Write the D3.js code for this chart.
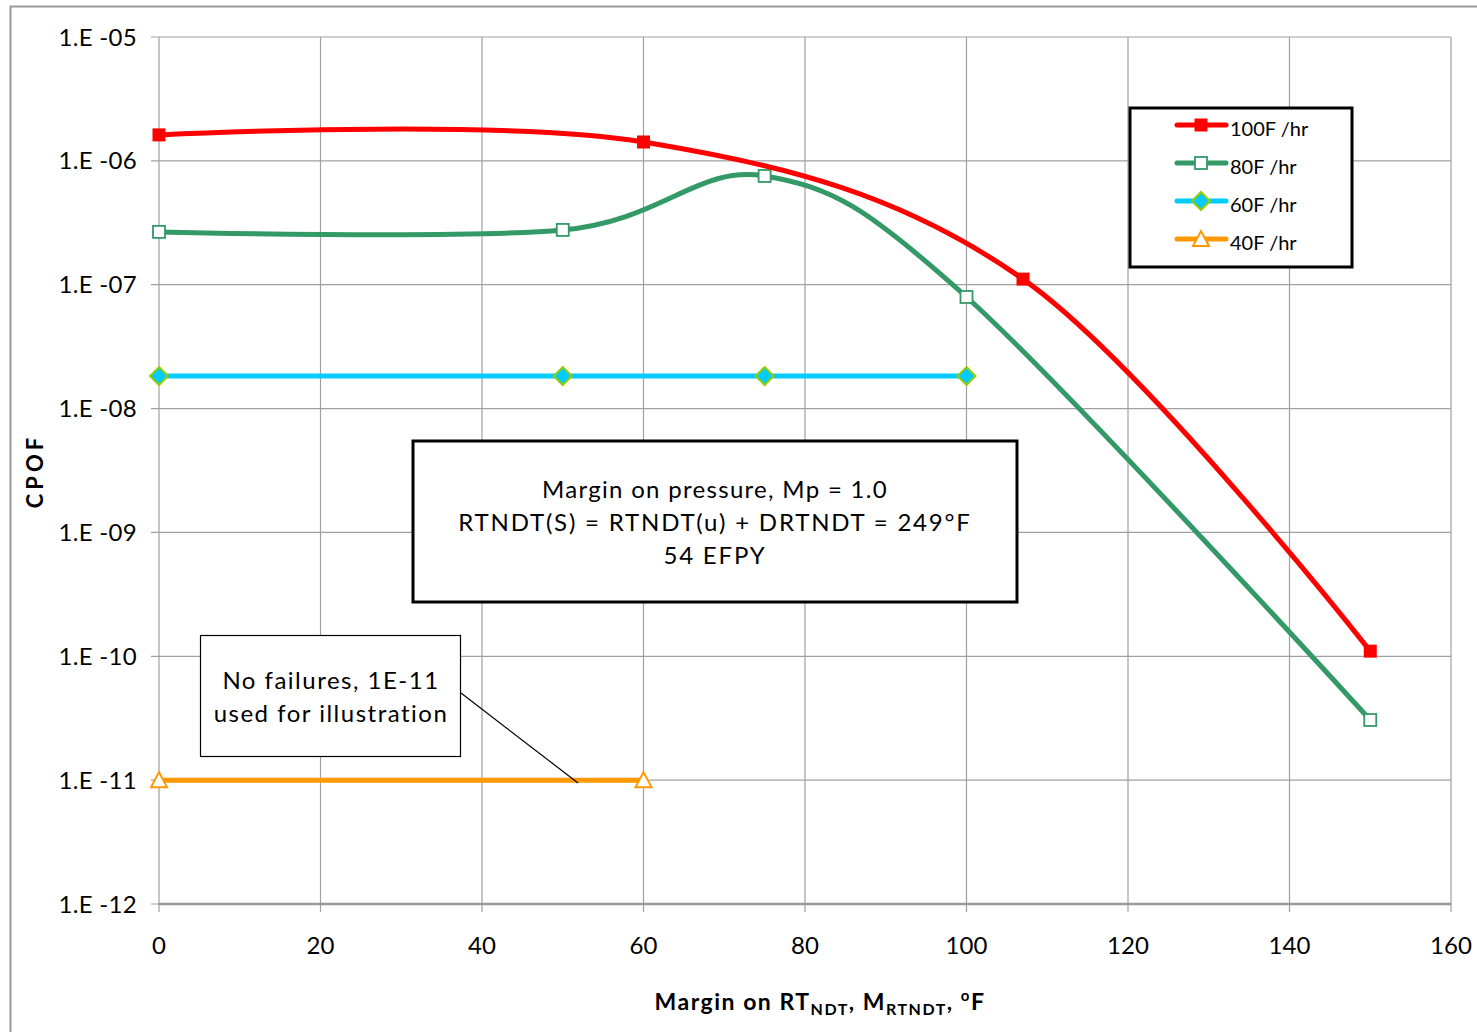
<!DOCTYPE html>
<html><head><meta charset="utf-8">
<script src="https://cdn.jsdelivr.net/npm/d3@7"></script>
<style>body{margin:0;background:#fff}svg{display:block}text{font-family:Lato,"Open Sans",sans-serif}</style>
</head><body>
<script>
// ---- data ----
const xTicks = [0,20,40,60,80,100,120,140,160];
const yTicks = [1e-5,1e-6,1e-7,1e-8,1e-9,1e-10,1e-11,1e-12];
const yTickLabels = ["1.E -05","1.E -06","1.E -07","1.E -08","1.E -09","1.E -10","1.E -11","1.E -12"];
const seriesNames = ["100F /hr","80F /hr","60F /hr","40F /hr"];
const x100 = [0,60,107,150];
const y100 = [1.62e-6,1.42e-6,1.11e-7,1.1e-10];
const x80 = [0,50,75,100,150];
const y80 = [2.67e-7,2.77e-7,7.55e-7,7.96e-8,3.06e-11];
const x60 = [0,50,75,100];
const y60 = [1.83e-8,1.83e-8,1.83e-8,1.83e-8];
const x40 = [0,60];
const y40 = [1e-11,1e-11];
const noteLines = ["Margin on pressure, Mp = 1.0","RTNDT(S) = RTNDT(u) + DRTNDT = 249°F","54 EFPY"];
const calloutLines = ["No failures, 1E-11","used for illustration"];

const W=1477,H=1032;
const L=159,R=1451,T=37,B=904;
const svg=d3.select("body").append("svg").attr("width",W).attr("height",H);
const x=d3.scaleLinear().domain([0,160]).range([L,R]);
const y=d3.scaleLog().domain([1e-12,1e-5]).range([B,T]);

// outer frame
svg.append("path").attr("d",`M10.5,${H+5}V6.5H${W+5}`).attr("fill","none").attr("stroke","#999").attr("stroke-width",2);

// grid
const g=svg.append("g");
g.selectAll(".vg").data(xTicks).join("line").attr("x1",d=>x(d)).attr("x2",d=>x(d)).attr("y1",T).attr("y2",B+8)
 .attr("stroke","#a0a0a0").attr("stroke-width",1.2);
g.selectAll(".hg").data(yTicks).join("line").attr("x1",L-8).attr("x2",R).attr("y1",d=>y(d)).attr("y2",d=>y(d))
 .attr("stroke","#a0a0a0").attr("stroke-width",1.2);
g.append("line").attr("x1",L).attr("x2",R).attr("y1",B).attr("y2",B).attr("stroke","#999").attr("stroke-width",2.5);

// tick labels
svg.selectAll(".yl").data(yTicks).join("text").attr("x",137).attr("y",d=>y(d)).attr("dy","0.36em")
 .attr("text-anchor","end").attr("font-size",24).attr("letter-spacing",0.3).attr("fill","#000").text((d,i)=>yTickLabels[i]);
svg.selectAll(".xl").data(xTicks).join("text").attr("x",d=>x(d)).attr("y",954)
 .attr("text-anchor","middle").attr("font-size",24).attr("fill","#000").text(d=>d);

// axis titles
svg.append("text").attr("transform","translate(43,471) rotate(-90)").attr("text-anchor","middle")
 .attr("font-size",22).attr("font-weight","bold").attr("letter-spacing",4).text("CPOF");
const xt=svg.append("text").attr("x",820).attr("y",1010).attr("text-anchor","middle").attr("font-size",23).attr("font-weight","bold").attr("letter-spacing",1.5);
xt.append("tspan").text("Margin  on RT");
xt.append("tspan").attr("font-size",16).attr("dy",5).text("NDT");
xt.append("tspan").attr("dy",-5).text(", M");
xt.append("tspan").attr("font-size",16).attr("dy",5).text("RTNDT");
xt.append("tspan").attr("dy",-5).text(", ");
xt.append("tspan").attr("font-size",15).attr("dy",-9).text("o");
xt.append("tspan").attr("dy",9).text("F");

// series
const line=d3.line().x(d=>x(d[0])).y(d=>y(d[1])).curve(d3.curveCatmullRom.alpha(0));
const series=[
 {xs:x100,ys:y100,color:"#ff0000",marker:"sqfill"},
 {xs:x80,ys:y80,color:"#339966",marker:"sqopen"},
 {xs:x60,ys:y60,color:"#00ccff",marker:"diamond"},
 {xs:x40,ys:y40,color:"#ff9900",marker:"tri"}
];
function drawMarker(sel,type,color,cx,cy){
 if(type==="sqfill") sel.append("rect").attr("x",cx-6.5).attr("y",cy-6.5).attr("width",13).attr("height",13).attr("fill",color);
 else if(type==="sqopen") sel.append("rect").attr("x",cx-6).attr("y",cy-6).attr("width",12).attr("height",12).attr("fill","#fff").attr("stroke",color).attr("stroke-width",1.8);
 else if(type==="diamond") sel.append("path").attr("d",`M${cx},${cy-9}L${cx+9},${cy}L${cx},${cy+9}L${cx-9},${cy}Z`).attr("fill",color).attr("stroke","#99cc00").attr("stroke-width",2);
 else if(type==="tri") sel.append("path").attr("d",`M${cx},${cy-8}L${cx+8},${cy+7}L${cx-8},${cy+7}Z`).attr("fill","#fff").attr("stroke",color).attr("stroke-width",2);
}
[...series].reverse().forEach(s=>{
 const pts=s.xs.map((v,i)=>[v,s.ys[i]]);
 svg.append("path").attr("d",line(pts)).attr("fill","none").attr("stroke",s.color).attr("stroke-width",5).attr("stroke-linejoin","round");
 const mg=svg.append("g");
 pts.forEach(p=>drawMarker(mg,s.marker,s.color,x(p[0]),y(p[1])));
});

// legend
const lg=svg.append("g");
lg.append("rect").attr("x",1130).attr("y",108).attr("width",222).attr("height",159).attr("fill","#fff").attr("stroke","#000").attr("stroke-width",3);
series.forEach((s,i)=>{
 const yy=125+i*38;
 lg.append("line").attr("x1",1177).attr("x2",1226).attr("y1",yy).attr("y2",yy).attr("stroke",s.color).attr("stroke-width",5).attr("stroke-linecap","round");
 drawMarker(lg,s.marker,s.color,1201,yy);
 lg.append("text").attr("x",1230).attr("y",yy+11).attr("font-size",20).text(seriesNames[i]);
});

// note box
svg.append("rect").attr("x",413).attr("y",441).attr("width",604).attr("height",161).attr("fill","#fff").attr("stroke","#000").attr("stroke-width",3);
svg.selectAll(".nl").data(noteLines).join("text").attr("x",715).attr("y",(d,i)=>498+i*33).attr("text-anchor","middle")
 .attr("font-size",24).attr("letter-spacing",(d,i)=>i===0?1.3:1.8).text(d=>d);

// callout
svg.append("line").attr("x1",461).attr("y1",693).attr("x2",578).attr("y2",783).attr("stroke","#000").attr("stroke-width",1.2);
svg.append("rect").attr("x",200.5).attr("y",635.5).attr("width",260).attr("height",121).attr("fill","#fff").attr("stroke","#000").attr("stroke-width",1.2);
svg.selectAll(".cl").data(calloutLines).join("text").attr("x",331).attr("y",(d,i)=>689+i*33).attr("text-anchor","middle")
 .attr("font-size",24).attr("letter-spacing",1.5).text(d=>d);
</script>
</body></html>
